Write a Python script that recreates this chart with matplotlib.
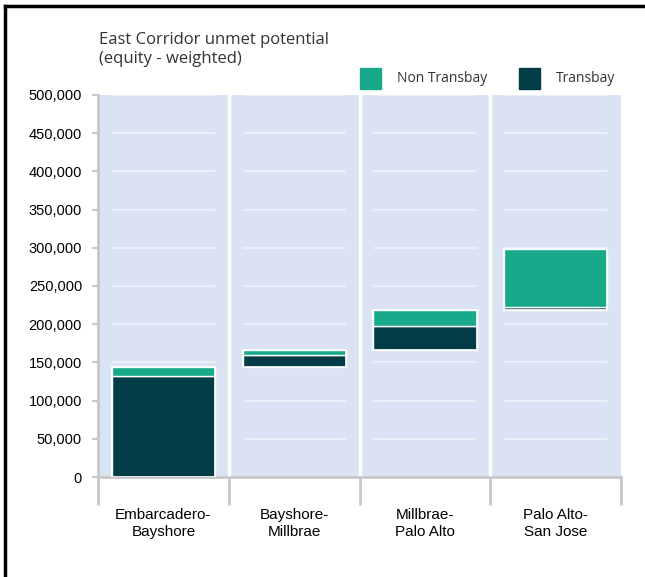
import numpy as np
import matplotlib.pyplot as plt
from matplotlib.lines import Line2D
from matplotlib.patches import Rectangle

# Data
segments = ['Embarcadero-\nBayshore', 'Bayshore-\nMillbrae', 'Millbrae-\nPalo Alto', 'Palo Alto-\nSan Jose']
transbay = [132000, 16000, 31000, 4000]
non_transbay = [12000, 6000, 22000, 75000]
yticks = [0, 50000, 100000, 150000, 200000, 250000, 300000, 350000, 400000, 450000, 500000]

teal = '#17A98A'
dark = '#023D47'
bg = '#DAE3F3'
grey = '#C8C8C8'

# waterfall bases: each bar starts where the previous one ended
totals = np.array(transbay) + np.array(non_transbay)
base = np.concatenate([[0], np.cumsum(totals)[:-1]])
x = np.arange(len(segments))

fig = plt.figure(figsize=(6.45, 5.77), dpi=100)
ax = fig.add_axes([0.152, 0.1733, 0.811, 0.6621])
ax.set_facecolor(bg)

w = 0.79
# inner gridlines, only across the bar span of each column
for i in x:
    ax.hlines(yticks[1:], i - w / 2, i + w / 2, color='#EEF2FA', lw=1.2, zorder=1)
for sep in [0.5, 1.5, 2.5]:
    ax.axvline(sep, color='white', lw=2.5, zorder=1)

ax.bar(x, transbay, w, bottom=base, color=dark, edgecolor='white', lw=1, zorder=3)
ax.bar(x, non_transbay, w, bottom=base + np.array(transbay), color=teal, edgecolor='white', lw=1, zorder=3)
# white outline around whole stack
for i in x:
    ax.add_patch(Rectangle((i - w / 2, base[i]), w, totals[i], fill=False, edgecolor='white', lw=1.2, zorder=4))

ax.set_xlim(-0.5, 3.5)
ax.set_ylim(0, 500000)
ax.set_yticks(yticks)
ax.set_yticklabels(['{:,}'.format(v) for v in yticks], fontsize=10.5, family='Liberation Sans')
ax.set_xticks(x)
ax.set_xticklabels(segments, fontsize=11, family='Liberation Sans', linespacing=1.3)
ax.set_xticks([-0.5, 0.5, 1.5, 2.5, 3.5], minor=True)
ax.tick_params(axis='x', which='major', length=0, pad=22)
ax.tick_params(axis='x', which='minor', length=20, width=2, color=grey)
ax.tick_params(axis='y', length=4, width=1.5, color=grey, pad=7.5)

for s in ['top', 'right']:
    ax.spines[s].set_visible(False)
for s in ['left', 'bottom']:
    ax.spines[s].set_color(grey)
    ax.spines[s].set_linewidth(2)

# title
fig.text(0.153, 0.914, 'East Corridor unmet potential\n(equity - weighted)', family='Open Sans',
         fontsize=12, color='#333333', ha='left', va='center', linespacing=1.25)

# legend
fig.patches.append(Rectangle((360 / 645, 1 - 89 / 577), 21 / 645, 21 / 577, color=teal, transform=fig.transFigure))
fig.text(397 / 645, 1 - 78 / 577, 'Non Transbay', family='Open Sans', fontsize=10, color='#333333', va='center')
fig.patches.append(Rectangle((519 / 645, 1 - 89 / 577), 21 / 645, 21 / 577, color=dark, transform=fig.transFigure))
fig.text(556 / 645, 1 - 78 / 577, 'Transbay', family='Open Sans', fontsize=10, color='#333333', va='center')

# frame lines at top and left of the picture
fig.add_artist(Line2D([0.007, 1], [0.99, 0.99], color='black', lw=2.5, transform=fig.transFigure))
fig.add_artist(Line2D([0.007, 0.007], [0.003, 0.99], color='black', lw=2.5, transform=fig.transFigure))

fig.savefig('out.png', dpi=100)
